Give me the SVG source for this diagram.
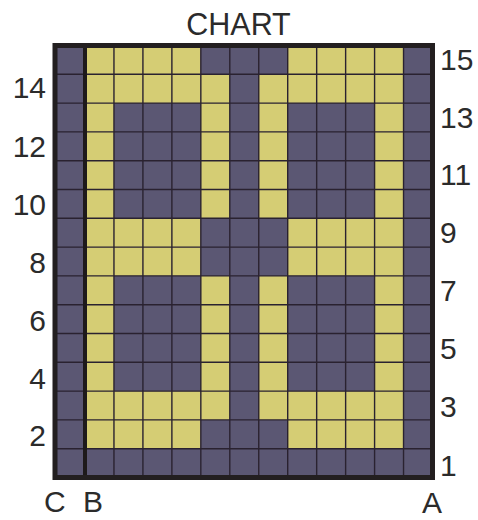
<svg xmlns="http://www.w3.org/2000/svg" width="478" height="520" viewBox="0 0 478 520">
<style>
.lbl{font-family:"Liberation Sans",Arial,sans-serif;font-size:30px;fill:#2b2b2b}
.big{font-size:30.5px}
.y{fill:#d5cd74}
.grid{stroke:#2a2230;stroke-width:1.4;fill:none}
</style>
<rect width="478" height="520" fill="#ffffff"/>
<g id="chart">
<rect x="55" y="45.5" width="377.5" height="432" fill="#5b5773"/>
<g id="yellow">
<rect class="y" x="85" y="45.5" width="115.83" height="28.8"/>
<rect class="y" x="287.71" y="45.5" width="115.83" height="28.8"/>
<rect class="y" x="85" y="74.3" width="144.79" height="28.8"/>
<rect class="y" x="258.75" y="74.3" width="144.79" height="28.8"/>
<rect class="y" x="85" y="45.5" width="28.96" height="403.2"/>
<rect class="y" x="374.58" y="45.5" width="28.96" height="403.2"/>
<rect class="y" x="200.83" y="74.3" width="28.96" height="144"/>
<rect class="y" x="258.75" y="74.3" width="28.96" height="144"/>
<rect class="y" x="85" y="218.3" width="115.83" height="57.6"/>
<rect class="y" x="287.71" y="218.3" width="115.83" height="57.6"/>
<rect class="y" x="200.83" y="275.9" width="28.96" height="144"/>
<rect class="y" x="258.75" y="275.9" width="28.96" height="144"/>
<rect class="y" x="85" y="391.1" width="144.79" height="28.8"/>
<rect class="y" x="258.75" y="391.1" width="144.79" height="28.8"/>
<rect class="y" x="85" y="419.9" width="115.83" height="28.8"/>
<rect class="y" x="287.71" y="419.9" width="115.83" height="28.8"/>
</g>
<path class="grid" d="M55 74.3H432.5M55 103.1H432.5M55 131.9H432.5M55 160.7H432.5M55 189.5H432.5M55 218.3H432.5M55 247.1H432.5M55 275.9H432.5M55 304.7H432.5M55 333.5H432.5M55 362.3H432.5M55 391.1H432.5M55 419.9H432.5M55 448.7H432.5M113.96 45.5V477.5M142.92 45.5V477.5M171.88 45.5V477.5M200.83 45.5V477.5M229.79 45.5V477.5M258.75 45.5V477.5M287.71 45.5V477.5M316.67 45.5V477.5M345.63 45.5V477.5M374.58 45.5V477.5M403.54 45.5V477.5"/>
<line x1="85" y1="45.5" x2="85" y2="477.5" stroke="#1e1a1b" stroke-width="4"/>
<rect x="55" y="45.5" width="377.5" height="432" fill="none" stroke="#231f20" stroke-width="5"/>
</g>
<g id="labels">
<text class="lbl big" x="238.5" y="35" text-anchor="middle">CHART</text>
<g text-anchor="end">
<text class="lbl" x="46" y="98">14</text>
<text class="lbl" x="46" y="157">12</text>
<text class="lbl" x="46" y="215">10</text>
<text class="lbl" x="46" y="273">8</text>
<text class="lbl" x="46" y="331">6</text>
<text class="lbl" x="46" y="389">4</text>
<text class="lbl" x="46" y="446">2</text>
</g>
<text class="lbl" x="440" y="70">15</text>
<text class="lbl" x="440" y="127.5">13</text>
<text class="lbl" x="440" y="185">11</text>
<text class="lbl" x="440" y="243">9</text>
<text class="lbl" x="440" y="301">7</text>
<text class="lbl" x="440" y="359">5</text>
<text class="lbl" x="440" y="417">3</text>
<text class="lbl" x="440" y="476">1</text>
<text class="lbl" x="44" y="512">C</text>
<text class="lbl" x="83" y="512">B</text>
<text class="lbl" x="422" y="513">A</text>
</g>
</svg>
